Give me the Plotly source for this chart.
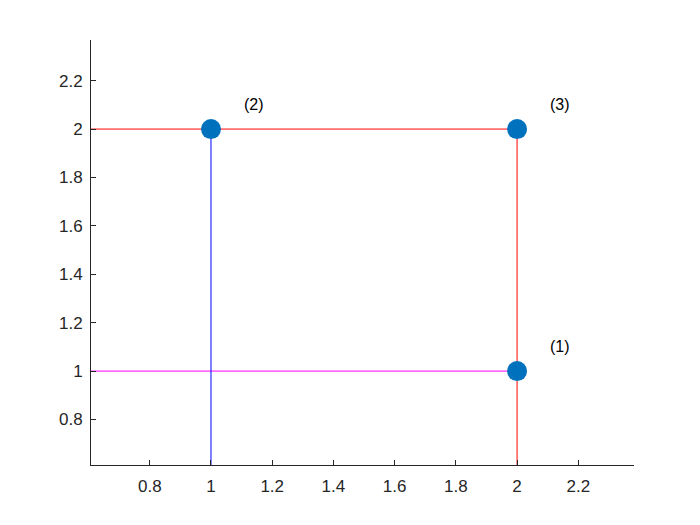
import plotly.graph_objects as go

px = [2, 1, 2]
py = [1, 2, 2]
labels = ["(1)", "(2)", "(3)"]
xticks = [0.8, 1, 1.2, 1.4, 1.6, 1.8, 2, 2.2]
yticks = [0.8, 1, 1.2, 1.4, 1.6, 1.8, 2, 2.2]

fig = go.Figure()
# guide lines
fig.add_trace(go.Scatter(x=[0, 2], y=[1, 1], mode="lines", line=dict(color="#FF00FF", width=1)))
fig.add_trace(go.Scatter(x=[1, 1], y=[0, 2], mode="lines", line=dict(color="#0000FF", width=1)))
fig.add_trace(go.Scatter(x=[2, 2], y=[0, 2], mode="lines", line=dict(color="#FF0000", width=1)))
fig.add_trace(go.Scatter(x=[0, 2], y=[2, 2], mode="lines", line=dict(color="#FF0000", width=1)))
fig.add_trace(go.Scatter(x=px, y=py, mode="markers",
                         marker=dict(color="#0072BD", size=20, line=dict(width=0)),
                         cliponaxis=False))
for x, y, t in zip(px, py, labels):
    fig.add_annotation(x=x + 0.1, y=y + 0.1, text=t, showarrow=False,
                       xanchor="left", yanchor="middle",
                       font=dict(family="Liberation Sans, Arial", size=16, color="#000000"))

axis_common = dict(showgrid=False, zeroline=False, showline=True, linecolor="#262626",
                   linewidth=1, ticks="inside", ticklen=5, tickcolor="#262626",
                   tickfont=dict(family="Liberation Sans, Arial", size=17, color="#262626"))
fig.update_xaxes(range=[0.608, 2.382], tickvals=xticks, ticklabelstandoff=6,
                 ticktext=[f"{v:g}" for v in xticks], **axis_common)
fig.update_yaxes(range=[0.612, 2.368], tickvals=yticks, ticklabelstandoff=4,
                 ticktext=[f"{v:g}" for v in yticks], **axis_common)
fig.update_layout(width=700, height=525, showlegend=False,
                  margin=dict(l=83, r=74, t=32, b=68),
                  plot_bgcolor="white", paper_bgcolor="white")
fig.write_html("out.html")
